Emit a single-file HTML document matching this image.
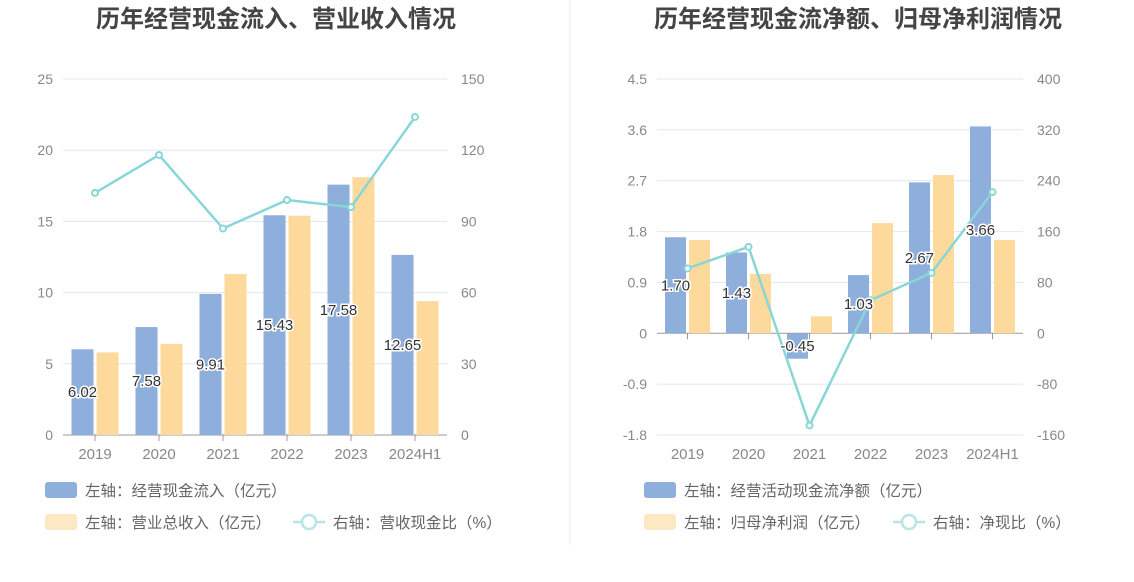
<!DOCTYPE html>
<html><head><meta charset="utf-8"><style>
body{margin:0;background:#fff;width:1134px;height:582px;overflow:hidden;font-family:"Liberation Sans","Noto Sans CJK SC",sans-serif}
svg{display:block}
</style></head><body>
<svg id="c" width="1134" height="582" xmlns="http://www.w3.org/2000/svg">
<line x1="570" y1="0" x2="570" y2="545" stroke="#e8e8e8"/>
</svg>
<script>
const cats=["2019","2020","2021","2022","2023","2024H1"];
const leftInflow=[6.02,7.58,9.91,15.43,17.58,12.65];
const leftRevenue=[5.8,6.4,11.3,15.4,18.1,9.4];
const leftRatio=[102,118,87,99,96,134];
const leftTicksL=[0,5,10,15,20,25];
const leftTicksR=[0,30,60,90,120,150];
const rightCash=[1.70,1.43,-0.45,1.03,2.67,3.66];
const rightProfit=[1.65,1.05,0.3,1.95,2.8,1.65];
const rightRatio=[102,136,-145,52,95,222];
const rightTicksL=[-1.8,-0.9,0,0.9,1.8,2.7,3.6,4.5];
const rightTicksR=[-160,-80,0,80,160,240,320,400];
const rightTickLabelsL=["-1.8","-0.9","0","0.9","1.8","2.7","3.6","4.5"];

const svg=document.getElementById('c');
const NS="http://www.w3.org/2000/svg";
function el(tag,attrs,parent){const e=document.createElementNS(NS,tag);for(const k in attrs)e.setAttribute(k,attrs[k]);(parent||svg).appendChild(e);return e;}
function txt(s,attrs){const t=el('text',attrs);t.textContent=s;return t;}

function panel(o){
  const yL=v=>o.y0+(v-o.lMin)/(o.lMax-o.lMin)*(o.y1-o.y0);
  const yR=v=>o.y0+(v-o.rMin)/(o.rMax-o.rMin)*(o.y1-o.y0);
  const step=(o.x1-o.x0)/cats.length;
  const xc=i=>o.x0+step*(i+0.5);
  const t=txt(o.title,{x:o.titleX,y:27,'text-anchor':'middle','font-size':24,'font-weight':'bold',fill:'#444'});
  
  o.lt.forEach((v,i)=>{
    const y=yL(v);
    const ln=el('line',{x1:o.x0,x2:o.x1,y1:y,y2:y,stroke:v===0?'#999':'#e0e6f1'});
    
    const a=txt(o.ltl?o.ltl[i]:String(v),{x:o.x0-10,y:y+5,'text-anchor':'end','font-size':14,fill:'#888'});
    
    const b=txt(String(o.rt[i]),{x:o.x1+14,y:yR(o.rt[i])+5,'font-size':14,fill:'#888'});
    
  });
  const z=yL(0);
  cats.forEach((c,i)=>{
    const x=xc(i);
    const tk=el('line',{x1:x,x2:x,y1:z,y2:z+6,stroke:'#999'});
    
    const l=txt(c,{x:x,y:o.y0+24,'text-anchor':'middle','font-size':15,fill:'#888'});
    
    const v1=o.s1[i],v2=o.s2[i];
    const b1=el('rect',{x:x-o.bw-1.5,y:Math.min(yL(v1),z),width:o.bw,height:Math.abs(yL(v1)-z),fill:'#8eaedc'});
    
    const b2=el('rect',{x:x+1.5,y:Math.min(yL(v2),z),width:o.bw,height:Math.abs(yL(v2)-z),fill:'#fdd99b'});
    
  });
  const pts=o.s3.map((v,i)=>xc(i)+','+yR(v)).join(' ');
  const pl=el('polyline',{points:pts,fill:'none',stroke:'#89d6d7','stroke-width':2.5});
  
  o.s3.forEach((v,i)=>{
    const p=el('circle',{cx:xc(i),cy:yR(v),r:3,fill:'#fff',stroke:'#89d6d7','stroke-width':2});
    
  });
  o.s1.forEach((v,i)=>{
    const x=xc(i)-o.bw/2-1.5,y=(yL(v)+z)/2+5;
    const a=txt(v.toFixed(2),{x:x,y:y,'text-anchor':'middle','font-size':15,fill:'#333',stroke:'#fff','stroke-width':3,'paint-order':'stroke'});
    
  });
  const lx=o.legX;
  const s1=el('rect',{x:lx,y:482,width:32,height:16,rx:3,fill:'#8eaedc'});
  
  const t1=txt(o.leg1,{x:lx+40,y:496,'font-size':15.5,fill:'#666'});
  
  const s2=el('rect',{x:lx,y:514,width:32,height:16,rx:3,fill:'#fde8c4'});
  
  const t2=txt(o.leg2,{x:lx+40,y:528,'font-size':15.5,fill:'#666'});
  
  const ll=el('line',{x1:o.leg3X,x2:o.leg3X+32,y1:522,y2:522,stroke:'#b5e5e6','stroke-width':2.5});
  
  const lc=el('circle',{cx:o.leg3X+16,cy:522,r:7,fill:'#fff',stroke:'#b5e5e6','stroke-width':2.5});
  
  const t3=txt(o.leg3,{x:o.leg3X+40,y:528,'font-size':15.5,fill:'#666'});
  
}
panel({title:'历年经营现金流入、营业收入情况',titleX:276,x0:63,x1:447,y0:435,y1:79,lMin:0,lMax:25,rMin:0,rMax:150,
  lt:leftTicksL,rt:leftTicksR,s1:leftInflow,s2:leftRevenue,s3:leftRatio,bw:22,k1:'inflow',k2:'revenue',
  legX:45,leg1:'左轴：经营现金流入（亿元）',leg2:'左轴：营业总收入（亿元）',leg3X:293,leg3:'右轴：营收现金比（%）'});
panel({title:'历年经营现金流净额、归母净利润情况',titleX:858,x0:657,x1:1023,y0:435,y1:79,lMin:-1.8,lMax:4.5,rMin:-160,rMax:400,
  lt:rightTicksL,ltl:rightTickLabelsL,rt:rightTicksR,s1:rightCash,s2:rightProfit,s3:rightRatio,bw:21,k1:'net-cash',k2:'net-profit',
  legX:644,leg1:'左轴：经营活动现金流净额（亿元）',leg2:'左轴：归母净利润（亿元）',leg3X:893,leg3:'右轴：净现比（%）'});
</script>
</body></html>
